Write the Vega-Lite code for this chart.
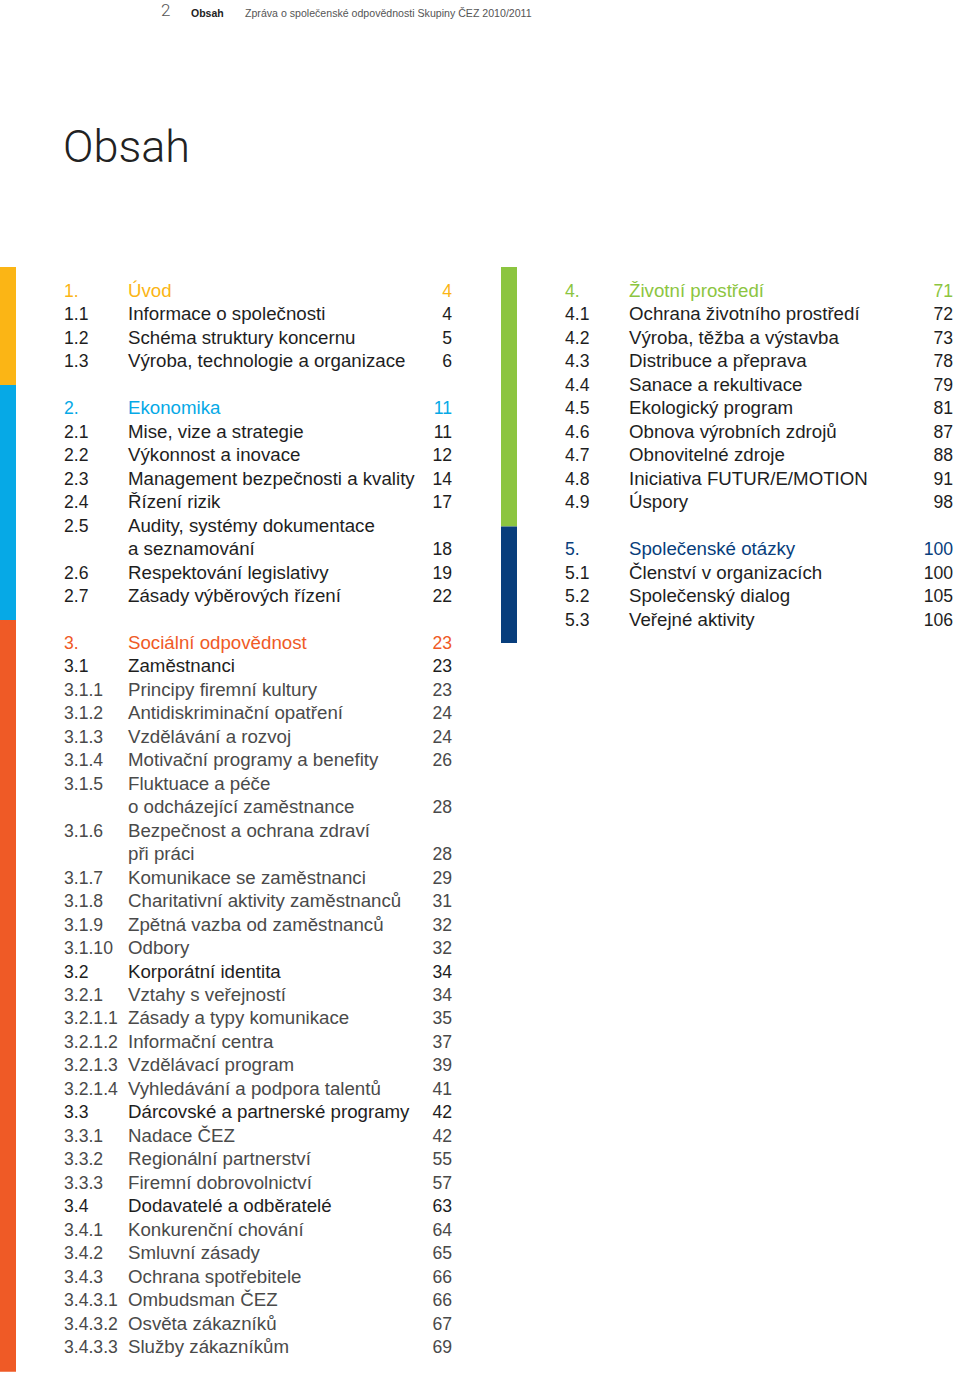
{
  "$schema": "https://vega.github.io/schema/vega-lite/v6.json",
  "width": 960,
  "height": 1379,
  "autosize": "none",
  "padding": 0,
  "background": "white",
  "config": {"view": {"stroke": null}, "text": {"font": "Liberation Sans"}},
  "datasets": {
    "toc": [
      {"col": 0, "line": 0, "num": "1.", "title": "Úvod", "page": "4", "level": 1, "section": "1"},
      {"col": 0, "line": 1, "num": "1.1", "title": "Informace o společnosti", "page": "4", "level": 2, "section": "1"},
      {"col": 0, "line": 2, "num": "1.2", "title": "Schéma struktury koncernu", "page": "5", "level": 2, "section": "1"},
      {"col": 0, "line": 3, "num": "1.3", "title": "Výroba, technologie a organizace", "page": "6", "level": 2, "section": "1"},
      {"col": 0, "line": 5, "num": "2.", "title": "Ekonomika", "page": "11", "level": 1, "section": "2"},
      {"col": 0, "line": 6, "num": "2.1", "title": "Mise, vize a strategie", "page": "11", "level": 2, "section": "2"},
      {"col": 0, "line": 7, "num": "2.2", "title": "Výkonnost a inovace", "page": "12", "level": 2, "section": "2"},
      {"col": 0, "line": 8, "num": "2.3", "title": "Management bezpečnosti a kvality", "page": "14", "level": 2, "section": "2"},
      {"col": 0, "line": 9, "num": "2.4", "title": "Řízení rizik", "page": "17", "level": 2, "section": "2"},
      {"col": 0, "line": 10, "num": "2.5", "title": "Audity, systémy dokumentace", "page": "", "level": 2, "section": "2"},
      {"col": 0, "line": 11, "num": "", "title": "a seznamování", "page": "18", "level": 2, "section": "2"},
      {"col": 0, "line": 12, "num": "2.6", "title": "Respektování legislativy", "page": "19", "level": 2, "section": "2"},
      {"col": 0, "line": 13, "num": "2.7", "title": "Zásady výběrových řízení", "page": "22", "level": 2, "section": "2"},
      {"col": 0, "line": 15, "num": "3.", "title": "Sociální odpovědnost", "page": "23", "level": 1, "section": "3"},
      {"col": 0, "line": 16, "num": "3.1", "title": "Zaměstnanci", "page": "23", "level": 2, "section": "3"},
      {"col": 0, "line": 17, "num": "3.1.1", "title": "Principy firemní kultury", "page": "23", "level": 3, "section": "3"},
      {"col": 0, "line": 18, "num": "3.1.2", "title": "Antidiskriminační opatření", "page": "24", "level": 3, "section": "3"},
      {"col": 0, "line": 19, "num": "3.1.3", "title": "Vzdělávání a rozvoj", "page": "24", "level": 3, "section": "3"},
      {"col": 0, "line": 20, "num": "3.1.4", "title": "Motivační programy a benefity", "page": "26", "level": 3, "section": "3"},
      {"col": 0, "line": 21, "num": "3.1.5", "title": "Fluktuace a péče", "page": "", "level": 3, "section": "3"},
      {"col": 0, "line": 22, "num": "", "title": "o odcházející zaměstnance", "page": "28", "level": 3, "section": "3"},
      {"col": 0, "line": 23, "num": "3.1.6", "title": "Bezpečnost a ochrana zdraví", "page": "", "level": 3, "section": "3"},
      {"col": 0, "line": 24, "num": "", "title": "při práci", "page": "28", "level": 3, "section": "3"},
      {"col": 0, "line": 25, "num": "3.1.7", "title": "Komunikace se zaměstnanci", "page": "29", "level": 3, "section": "3"},
      {"col": 0, "line": 26, "num": "3.1.8", "title": "Charitativní aktivity zaměstnanců", "page": "31", "level": 3, "section": "3"},
      {"col": 0, "line": 27, "num": "3.1.9", "title": "Zpětná vazba od zaměstnanců", "page": "32", "level": 3, "section": "3"},
      {"col": 0, "line": 28, "num": "3.1.10", "title": "Odbory", "page": "32", "level": 3, "section": "3"},
      {"col": 0, "line": 29, "num": "3.2", "title": "Korporátní identita", "page": "34", "level": 2, "section": "3"},
      {"col": 0, "line": 30, "num": "3.2.1", "title": "Vztahy s veřejností", "page": "34", "level": 3, "section": "3"},
      {"col": 0, "line": 31, "num": "3.2.1.1", "title": "Zásady a typy komunikace", "page": "35", "level": 3, "section": "3"},
      {"col": 0, "line": 32, "num": "3.2.1.2", "title": "Informační centra", "page": "37", "level": 3, "section": "3"},
      {"col": 0, "line": 33, "num": "3.2.1.3", "title": "Vzdělávací program", "page": "39", "level": 3, "section": "3"},
      {"col": 0, "line": 34, "num": "3.2.1.4", "title": "Vyhledávání a podpora talentů", "page": "41", "level": 3, "section": "3"},
      {"col": 0, "line": 35, "num": "3.3", "title": "Dárcovské a partnerské programy", "page": "42", "level": 2, "section": "3"},
      {"col": 0, "line": 36, "num": "3.3.1", "title": "Nadace ČEZ", "page": "42", "level": 3, "section": "3"},
      {"col": 0, "line": 37, "num": "3.3.2", "title": "Regionální partnerství", "page": "55", "level": 3, "section": "3"},
      {"col": 0, "line": 38, "num": "3.3.3", "title": "Firemní dobrovolnictví", "page": "57", "level": 3, "section": "3"},
      {"col": 0, "line": 39, "num": "3.4", "title": "Dodavatelé a odběratelé", "page": "63", "level": 2, "section": "3"},
      {"col": 0, "line": 40, "num": "3.4.1", "title": "Konkurenční chování", "page": "64", "level": 3, "section": "3"},
      {"col": 0, "line": 41, "num": "3.4.2", "title": "Smluvní zásady", "page": "65", "level": 3, "section": "3"},
      {"col": 0, "line": 42, "num": "3.4.3", "title": "Ochrana spotřebitele", "page": "66", "level": 3, "section": "3"},
      {"col": 0, "line": 43, "num": "3.4.3.1", "title": "Ombudsman ČEZ", "page": "66", "level": 3, "section": "3"},
      {"col": 0, "line": 44, "num": "3.4.3.2", "title": "Osvěta zákazníků", "page": "67", "level": 3, "section": "3"},
      {"col": 0, "line": 45, "num": "3.4.3.3", "title": "Služby zákazníkům", "page": "69", "level": 3, "section": "3"},
      {"col": 1, "line": 0, "num": "4.", "title": "Životní prostředí", "page": "71", "level": 1, "section": "4"},
      {"col": 1, "line": 1, "num": "4.1", "title": "Ochrana životního prostředí", "page": "72", "level": 2, "section": "4"},
      {"col": 1, "line": 2, "num": "4.2", "title": "Výroba, těžba a výstavba", "page": "73", "level": 2, "section": "4"},
      {"col": 1, "line": 3, "num": "4.3", "title": "Distribuce a přeprava", "page": "78", "level": 2, "section": "4"},
      {"col": 1, "line": 4, "num": "4.4", "title": "Sanace a rekultivace", "page": "79", "level": 2, "section": "4"},
      {"col": 1, "line": 5, "num": "4.5", "title": "Ekologický program", "page": "81", "level": 2, "section": "4"},
      {"col": 1, "line": 6, "num": "4.6", "title": "Obnova výrobních zdrojů", "page": "87", "level": 2, "section": "4"},
      {"col": 1, "line": 7, "num": "4.7", "title": "Obnovitelné zdroje", "page": "88", "level": 2, "section": "4"},
      {"col": 1, "line": 8, "num": "4.8", "title": "Iniciativa FUTUR/E/MOTION", "page": "91", "level": 2, "section": "4"},
      {"col": 1, "line": 9, "num": "4.9", "title": "Úspory", "page": "98", "level": 2, "section": "4"},
      {"col": 1, "line": 11, "num": "5.", "title": "Společenské otázky", "page": "100", "level": 1, "section": "5"},
      {"col": 1, "line": 12, "num": "5.1", "title": "Členství v organizacích", "page": "100", "level": 2, "section": "5"},
      {"col": 1, "line": 13, "num": "5.2", "title": "Společenský dialog", "page": "105", "level": 2, "section": "5"},
      {"col": 1, "line": 14, "num": "5.3", "title": "Veřejné aktivity", "page": "106", "level": 2, "section": "5"}
    ],
    "bars": [
      {"col": 0, "section": "1", "start": -1.28, "end": 3.75},
      {"col": 0, "section": "2", "start": 3.75, "end": 13.76},
      {"col": 0, "section": "3", "start": 13.76, "end": 45.8},
      {"col": 1, "section": "4", "start": -1.28, "end": 9.78},
      {"col": 1, "section": "5", "start": 9.78, "end": 14.74}
    ],
    "header": [
      {"col": 0, "line": -12.03, "line2": -11.97, "pageNo": "2", "label": "Obsah", "report": "Zpráva o společenské odpovědnosti Skupiny ČEZ 2010/2011"}
    ],
    "heading": [
      {"col": 0, "line": -5.75, "text": "Obsah"}
    ]
  },
  "layer": [
    {
      "data": {"name": "bars"},
      "mark": {"type": "rule", "strokeWidth": 16, "strokeCap": "butt", "xOffset": -56},
      "encoding": {
        "x": {"field": "col", "type": "quantitative", "axis": null, "scale": {"domain": [0, 1], "range": [64, 565], "nice": false, "zero": false}},
        "y": {"field": "start", "type": "quantitative", "axis": null, "scale": {"domain": [0, 45], "range": [297, 1353], "nice": false, "zero": false}},
        "y2": {"field": "end"},
        "color": {"field": "section", "type": "nominal", "legend": null, "scale": {"domain": ["1", "2", "3", "4", "5"], "range": ["#FBB515", "#06A9E6", "#EF5A26", "#8CC540", "#083E7C"]}}
      }
    },
    {
      "data": {"name": "toc"},
      "mark": {"type": "text", "align": "left", "baseline": "alphabetic", "fontSize": 17.6, "dx": 0},
      "encoding": {
        "x": {"field": "col", "type": "quantitative", "axis": null},
        "y": {"field": "line", "type": "quantitative", "axis": null},
        "text": {"field": "num"},
        "color": {"field": "section", "type": "nominal", "legend": null, "condition": [{"test": "datum.level == 2", "value": "#1e1e1e"}, {"test": "datum.level == 3", "value": "#4a4a4a"}]}
      }
    },
    {
      "data": {"name": "toc"},
      "mark": {"type": "text", "align": "left", "baseline": "alphabetic", "dx": 64},
      "encoding": {
        "x": {"field": "col", "type": "quantitative", "axis": null},
        "y": {"field": "line", "type": "quantitative", "axis": null},
        "text": {"field": "title"},
        "size": {"field": "level", "type": "ordinal", "legend": null, "scale": {"domain": [1, 2, 3], "range": [18.7, 18.7, 18.3]}},
        "color": {"field": "section", "type": "nominal", "legend": null, "condition": [{"test": "datum.level == 2", "value": "#1e1e1e"}, {"test": "datum.level == 3", "value": "#4a4a4a"}]}
      }
    },
    {
      "data": {"name": "toc"},
      "mark": {"type": "text", "align": "right", "baseline": "alphabetic", "fontSize": 17.6, "dx": 388},
      "encoding": {
        "x": {"field": "col", "type": "quantitative", "axis": null},
        "y": {"field": "line", "type": "quantitative", "axis": null},
        "text": {"field": "page"},
        "color": {"field": "section", "type": "nominal", "legend": null, "condition": [{"test": "datum.level == 2", "value": "#1e1e1e"}, {"test": "datum.level == 3", "value": "#4a4a4a"}]}
      }
    },
    {
      "data": {"name": "header"},
      "mark": {"type": "text", "align": "left", "baseline": "alphabetic", "fontSize": 17, "font": "Roboto", "fontWeight": 300, "dx": 97, "color": "#555555"},
      "encoding": {
        "x": {"field": "col", "type": "quantitative", "axis": null},
        "y": {"field": "line2", "type": "quantitative", "axis": null},
        "text": {"field": "pageNo"}
      }
    },
    {
      "data": {"name": "header"},
      "mark": {"type": "text", "align": "left", "baseline": "alphabetic", "fontSize": 10.5, "fontWeight": "bold", "dx": 127, "dy": 2, "color": "#222222"},
      "encoding": {
        "x": {"field": "col", "type": "quantitative", "axis": null},
        "y": {"field": "line", "type": "quantitative", "axis": null},
        "text": {"field": "label"}
      }
    },
    {
      "data": {"name": "header"},
      "mark": {"type": "text", "align": "left", "baseline": "alphabetic", "fontSize": 10.6, "dx": 181, "dy": 2, "color": "#555555"},
      "encoding": {
        "x": {"field": "col", "type": "quantitative", "axis": null},
        "y": {"field": "line", "type": "quantitative", "axis": null},
        "text": {"field": "report"}
      }
    },
    {
      "data": {"name": "heading"},
      "mark": {"type": "text", "align": "left", "baseline": "alphabetic", "fontSize": 45, "font": "Roboto", "fontWeight": 300, "dx": -1, "color": "#222222"},
      "encoding": {
        "x": {"field": "col", "type": "quantitative", "axis": null},
        "y": {"field": "line", "type": "quantitative", "axis": null},
        "text": {"field": "text"}
      }
    }
  ]
}
